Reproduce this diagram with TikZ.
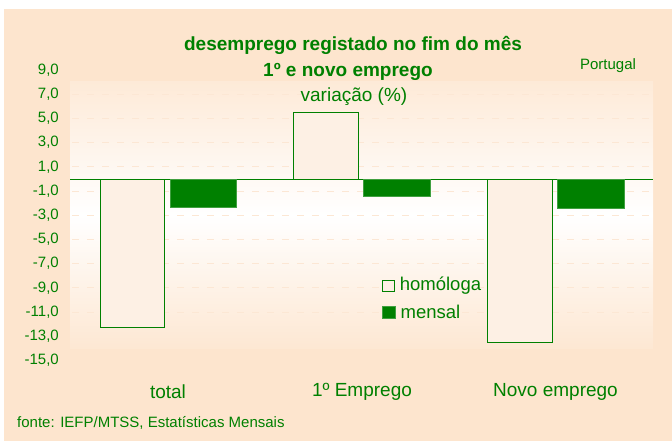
\documentclass[tikz,border=0pt]{standalone}
\usepackage{fontspec}
\setmainfont{Liberation Sans}
\usepackage{tikz}
\definecolor{pessego}{RGB}{253,229,206}
\definecolor{pessegoclaro}{RGB}{253,240,228}
\definecolor{verde}{RGB}{0,128,0}
\definecolor{grelha}{RGB}{252,231,212}

\begin{document}
\begin{tikzpicture}[x=1pt,y=-1pt,
	homologa/.style={draw=verde, fill=pessegoclaro, line width=1pt},
	mensal/.style={draw=verde!75!white, fill=verde, line width=0.8pt},
	gridline/.style={grelha, dash pattern=on 7pt off 8pt, line width=1pt},
	axislabel/.style={text=verde, anchor=east, inner sep=0pt, font=\fontsize{15}{17}\selectfont},
	catlabel/.style={text=verde, font=\fontsize{19}{22}\selectfont},
	titulo/.style={text=verde, font=\bfseries\fontsize{19}{22}\selectfont},
	legtexto/.style={text=verde, anchor=west, inner sep=0pt, xshift=5pt, font=\fontsize{18.5}{21}\selectfont}]
			\useasboundingbox (0,0) rectangle (672,441);
			\fill[pessego] (4,9) rectangle (672,441);
			\shade[top color=pessego!80!white, bottom color=pessego!90!white, middle color=white] (70,82) rectangle (653,348);
			% grelha
			\draw[gridline] (72,94.3) -- (653,94.3);
			\draw[gridline] (72,118.5) -- (653,118.5);
			\draw[gridline] (72,142.7) -- (653,142.7);
			\draw[gridline] (72,166.9) -- (653,166.9);
			\draw[gridline] (72,191.1) -- (653,191.1);
			\draw[gridline] (72,215.3) -- (653,215.3);
			\draw[gridline] (72,239.5) -- (653,239.5);
			\draw[gridline] (72,263.7) -- (653,263.7);
			\draw[gridline] (72,287.9) -- (653,287.9);
			\draw[gridline] (72,312.1) -- (653,312.1);
			\draw[verde, line width=1pt] (70,179) -- (653,179);
			% eixo
			\node[axislabel] (l9) at (59,70.1) {9,0};
			\node[axislabel] (l7) at (59,94.3) {7,0};
			\node[axislabel] (l5) at (59,118.5) {5,0};
			\node[axislabel] (l3) at (59,142.7) {3,0};
			\node[axislabel] (l1) at (59,166.9) {1,0};
			\node[axislabel] (lm1) at (59,191.1) {-1,0};
			\node[axislabel] (lm3) at (59,215.3) {-3,0};
			\node[axislabel] (lm5) at (59,239.5) {-5,0};
			\node[axislabel] (lm7) at (59,263.7) {-7,0};
			\node[axislabel] (lm9) at (59,287.9) {-9,0};
			\node[axislabel] (lm11) at (59,312.1) {-11,0};
			\node[axislabel] (lm13) at (59,336.3) {-13,0};
			\node[axislabel] (lm15) at (59,360.5) {-15,0};
			% barras
			\draw[homologa] (100.7,179) rectangle (164.3,327);
			\draw[mensal] (170,179) rectangle (236.7,207.3);
			\draw[homologa] (293.3,112.7) rectangle (358.3,179);
			\draw[mensal] (363.7,179) rectangle (430,196);
			\draw[homologa] (487.3,179) rectangle (552,342.7);
			\draw[mensal] (557.3,179) rectangle (624,208.3);
			% textos
			\node[titulo] (tit1) at (353,45) {desemprego registado no fim do mês};
			\node[titulo] (tit2) at (348,72) {1º e novo emprego};
			\node[catlabel] (subtit) at (354,97) {variação (\%)};
			\node[text=verde, font=\fontsize{15}{17}\selectfont] (pais) at (608,66) {Portugal};
			\node[catlabel] (cat1) at (168,392) {total};
			\node[catlabel] (cat2) at (362,392) {1º Emprego};
			\node[catlabel] (cat3) at (555.5,392) {Novo emprego};
			\node[text=verde, anchor=west, inner sep=0pt, font=\fontsize{15}{17}\selectfont] (fonte) at (17,423) {fonte: IEFP/MTSS, Estatísticas Mensais};
			% legenda
			\node[homologa, line width=0.8pt, minimum size=11.5pt, inner sep=0pt] (legh) at (388.5,286) {};
			\node[legtexto] (leghtxt) at (legh.east) {homóloga};
			\node[mensal, minimum width=13pt, minimum height=12pt, inner sep=0pt] (legm) at (388.5,312) {};
			\node[legtexto] (legmtxt) at (legm.east) {mensal};
		\end{tikzpicture}
\end{document}
